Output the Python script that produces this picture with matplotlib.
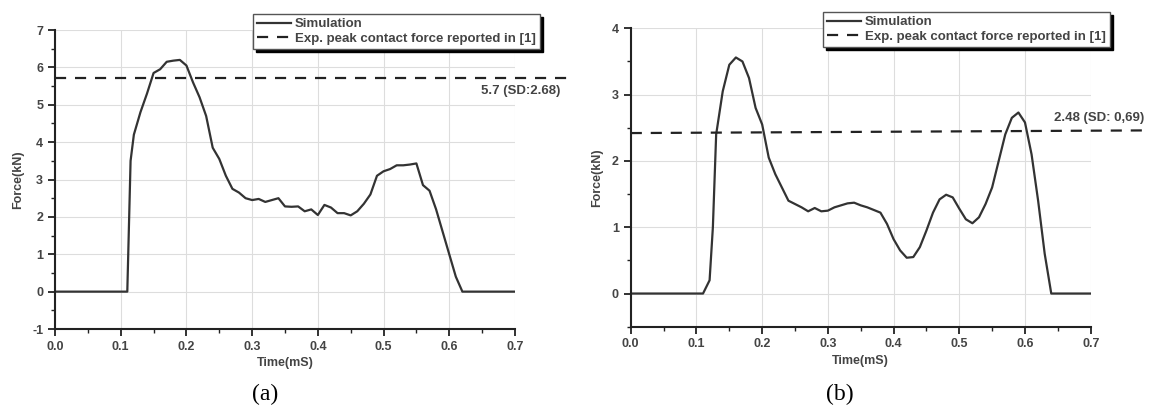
import matplotlib.pyplot as plt
import numpy as np
from matplotlib.ticker import MultipleLocator

plt.rcParams['font.family'] = ['Liberation Sans', 'DejaVu Sans']
plt.rcParams['axes.unicode_minus'] = False

# panel (a) data
time_a = [0.0, 0.11, 0.115, 0.12, 0.13, 0.14, 0.15, 0.16, 0.17, 0.18, 0.19, 0.20,
          0.21, 0.22, 0.23, 0.24, 0.25, 0.26, 0.27, 0.28, 0.29, 0.30, 0.31, 0.32,
          0.33, 0.34, 0.35, 0.36, 0.37, 0.38, 0.39, 0.40, 0.41, 0.42, 0.43, 0.44,
          0.45, 0.46, 0.47, 0.48, 0.49, 0.50, 0.51, 0.52, 0.53, 0.54, 0.55, 0.56,
          0.57, 0.58, 0.59, 0.60, 0.61, 0.62, 0.70]
force_a = [0.0, 0.0, 3.5, 4.2, 4.8, 5.3, 5.85, 5.95, 6.15, 6.18, 6.2, 6.05,
           5.6, 5.2, 4.7, 3.85, 3.55, 3.1, 2.75, 2.65, 2.5, 2.45, 2.48, 2.4,
           2.45, 2.5, 2.28, 2.27, 2.28, 2.15, 2.2, 2.05, 2.32, 2.25, 2.1, 2.1,
           2.04, 2.15, 2.35, 2.6, 3.1, 3.22, 3.28, 3.38, 3.38, 3.4, 3.43, 2.85,
           2.7, 2.2, 1.6, 1.0, 0.4, 0.0, 0.0]
exp_a = [5.71, 5.71]
label_a = '5.7 (SD:2.68)'

# panel (b) data
time_b = [0.0, 0.11, 0.12, 0.125, 0.13, 0.14, 0.15, 0.16, 0.17, 0.18, 0.19, 0.20,
          0.21, 0.22, 0.23, 0.24, 0.25, 0.26, 0.27, 0.28, 0.29, 0.30, 0.31, 0.32,
          0.33, 0.34, 0.35, 0.36, 0.37, 0.38, 0.39, 0.40, 0.41, 0.42, 0.43, 0.44,
          0.45, 0.46, 0.47, 0.48, 0.49, 0.50, 0.51, 0.52, 0.53, 0.54, 0.55, 0.56,
          0.57, 0.58, 0.59, 0.60, 0.61, 0.62, 0.63, 0.64, 0.70]
force_b = [0.0, 0.0, 0.2, 1.0, 2.4, 3.05, 3.45, 3.56, 3.5, 3.25, 2.8, 2.55,
           2.05, 1.8, 1.6, 1.4, 1.35, 1.3, 1.24, 1.29, 1.24, 1.25, 1.3, 1.33,
           1.36, 1.37, 1.33, 1.3, 1.26, 1.22, 1.05, 0.82, 0.65, 0.54, 0.55, 0.7,
           0.95, 1.22, 1.42, 1.49, 1.45, 1.28, 1.12, 1.06, 1.15, 1.35, 1.6, 2.0,
           2.4, 2.65, 2.73, 2.58, 2.1, 1.4, 0.6, 0.0, 0.0]
exp_b = [2.42, 2.46]
label_b = '2.48 (SD: 0,69)'

fig = plt.figure(figsize=(11.51, 4.15), dpi=100)
ax_a = fig.add_axes([0.0478, 0.2072, 0.3996, 0.7205])
ax_b = fig.add_axes([0.548, 0.2128, 0.3996, 0.719])

line_col = '#333333'
txt_col = '#444444'


def style_axes(ax, ylim, ymajor):
    ax.set_xlim(0, 0.7)
    ax.set_ylim(*ylim)
    ax.xaxis.set_major_locator(MultipleLocator(0.1))
    ax.xaxis.set_minor_locator(MultipleLocator(0.05))
    ax.yaxis.set_major_locator(MultipleLocator(ymajor))
    ax.yaxis.set_minor_locator(MultipleLocator(0.5))
    ax.xaxis.set_major_formatter(plt.FormatStrFormatter('%.1f'))
    ax.spines['top'].set_visible(False)
    ax.spines['right'].set_visible(False)
    for s in ['left', 'bottom']:
        ax.spines[s].set_linewidth(1.5)
        ax.spines[s].set_color('#222222')
    ax.tick_params(which='major', direction='out', length=5, width=1.3,
                   labelsize=9, labelcolor=txt_col, color='#222222')
    ax.tick_params(which='minor', direction='out', length=3, width=1.0,
                   color='#222222')
    for lab in ax.get_xticklabels() + ax.get_yticklabels():
        lab.set_fontweight('bold')
    ax.grid(True, which='major', color='#dddddd', linewidth=0.8)
    ax.set_axisbelow(True)
    ax.set_xlabel('Time(mS)', fontsize=9, fontweight='bold', color=txt_col, labelpad=3)
    ax.set_ylabel('Force(kN)', fontsize=9, fontweight='bold', color=txt_col, labelpad=6)


for ax, t, f, e, lab, ylim, legx, legy, txtx, txty in [
        (ax_a, time_a, force_a, exp_a, label_a, (-1, 7), 540, 14, 0.648, 5.38),
        (ax_b, time_b, force_b, exp_b, label_b, (-0.5, 4), 1110, 12, 0.644, 2.64)]:
    style_axes(ax, ylim, 1)
    ax.plot(t, f, color=line_col, linewidth=1.6, label='Simulation')
    ax.plot([0, 0.78], e, color='#222222', linewidth=1.6, dashes=(5, 4),
            clip_on=False, label='Exp. peak contact force reported in [1]')
    ax.text(txtx, txty, lab, fontsize=9.5, fontweight='bold', color=txt_col,
            va='center', ha='left', clip_on=False)
    leg = ax.legend(loc='upper right', bbox_to_anchor=(legx / 1151, 1 - legy / 415),
                    bbox_transform=fig.transFigure, fancybox=False, framealpha=1,
                    edgecolor='#555555', borderpad=0.3, labelspacing=0.2,
                    handlelength=2.6, handletextpad=0.3, borderaxespad=0,
                    prop={'size': 9.5, 'weight': 'bold'},
                    shadow={'color': 'black', 'alpha': 1, 'ox': 2.5, 'oy': -2.5})
    for tx in leg.get_texts():
        tx.set_color(txt_col)

fig.text(265 / 1151, 1 - 394 / 415, '(a)', family='Liberation Serif', fontsize=17,
         ha='center', va='center')
fig.text(840 / 1151, 1 - 394 / 415, '(b)', family='Liberation Serif', fontsize=17,
         ha='center', va='center')

fig.savefig('out.png', dpi=100)
